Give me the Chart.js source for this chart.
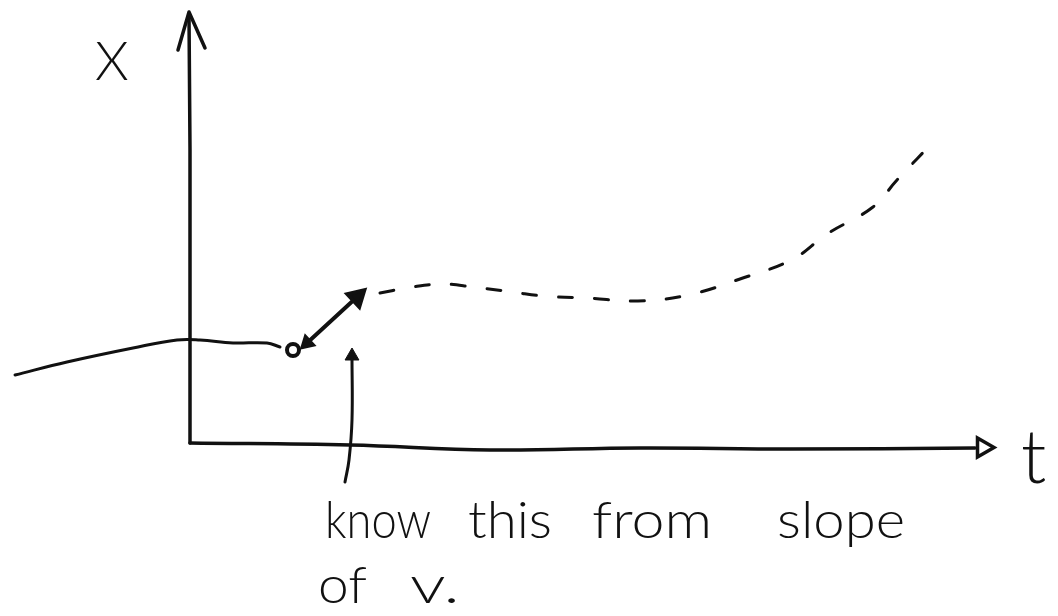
<!DOCTYPE html>
<html>
<head>
<meta charset="utf-8">
<script src="https://cdn.jsdelivr.net/npm/chart.js@4"></script>
<style>
  html, body { margin: 0; padding: 0; background: #fff; }
  #wrap { width: 1058px; height: 616px; }
</style>
</head>
<body>
<div id="wrap"><canvas id="myChart"></canvas></div>
<script>
// known path x(t) up to now
const pastT = [-1.75, -1.23, -0.57, -0.13, 0.10, 0.43, 0.77, 0.90];
const pastX = [0.68, 0.81, 0.95, 1.03, 1.03, 1.00, 1.00, 0.96];

// the present moment
const nowT = [1.03];
const nowX = [0.93];

// guessed future path (dashed)
const futureT = [1.90, 2.22, 2.53, 2.83, 3.23, 3.53, 3.97, 4.48, 4.98, 5.50, 6.03, 6.37, 6.83, 7.07, 7.47];
const futureX = [1.50, 1.56, 1.59, 1.56, 1.51, 1.47, 1.45, 1.42, 1.48, 1.64, 1.84, 2.09, 2.36, 2.63, 3.05];

// double arrow = the slope step
const slopeT = [1.17, 1.67];
const slopeX = [1.00, 1.46];

// pointer from the note up to the step
const pointerT = [1.55, 1.59, 1.62, 1.62];
const pointerX = [-0.39, -0.17, 0.23, 0.86];

// hand drawn axes
const tAxisT = [0, 1.6, 3.0, 4.5, 6.0, 7.85];
const tAxisX = [0, -0.02, -0.07, -0.05, -0.06, -0.05];
const xAxisT = [0, 0, -0.01];
const xAxisX = [0, 2.93, 4.28];
const chevronT = [-0.12, -0.01, 0.15];
const chevronX = [3.93, 4.31, 3.95];

const axisNames = ['X', 't'];
const noteLine1 = ['know', 'this', 'from', 'slope'];
const noteLine2 = ['of', 'v.'];

const toPts = (ts, xs) => ts.map((t, i) => ({ x: t, y: xs[i] }));

const ink = '#111';

function line(ts, xs, extra) {
  return Object.assign({
    data: toPts(ts, xs),
    showLine: true,
    borderColor: ink,
    borderWidth: 3,
    pointRadius: 0,
    tension: 0.4,
    borderCapStyle: 'round',
    borderJoinStyle: 'round',
    fill: false
  }, extra || {});
}

// where each handwritten word starts and how wide it runs (t units)
const line1At = [1.35, 2.78, 4.02, 5.87];
const line1W = [1.06, 0.84, 1.20, 1.28];
const line2At = [1.28, 2.20];
const line2W = [0.49, 0.50];

const handText = {
  id: 'handText',
  afterDatasetsDraw(chart) {
    const { ctx, scales: { x, y } } = chart;
    const font = size => '300 ' + size + 'px Lato, "DejaVu Sans", sans-serif';

    // squeeze or stretch a word so it spans the given t range
    function word(w, t0, tw, base) {
      const px = x.getPixelForValue(t0);
      const py = y.getPixelForValue(base);
      const want = x.getPixelForValue(t0 + tw) - px;
      const k = want / ctx.measureText(w).width;
      ctx.save();
      ctx.translate(px, py);
      ctx.scale(k, 1);
      ctx.fillText(w, 0, 0);
      ctx.restore();
    }

    ctx.save();
    ctx.fillStyle = ink;
    ctx.textBaseline = 'alphabetic';
    ctx.font = font(54);
    ctx.fillText(axisNames[0], x.getPixelForValue(-0.95), y.getPixelForValue(3.63));
    ctx.font = font(74);
    ctx.fillText(axisNames[1], x.getPixelForValue(8.31), y.getPixelForValue(-0.40));
    ctx.font = font(52);
    noteLine1.forEach((w, i) => word(w, line1At[i], line1W[i], -0.95));
    noteLine2.forEach((w, i) => word(w, line2At[i], line2W[i], -1.60));
    ctx.restore();
  }
};

new Chart(document.getElementById('myChart'), {
  type: 'scatter',
  data: {
    datasets: [
      line(tAxisT, tAxisX, { borderWidth: 3.5 }),
      line(xAxisT, xAxisX, { borderWidth: 3.5, tension: 0 }),
      line(chevronT, chevronX, { borderWidth: 3.5, tension: 0 }),
      // open arrow head on the t axis
      {
        data: toPts([7.93], [-0.045]),
        pointStyle: 'triangle',
        rotation: 90,
        pointRadius: 11,
        pointBorderWidth: 3.5,
        pointBorderColor: ink,
        pointBackgroundColor: '#fff'
      },
      line(pastT, pastX),
      {
        data: toPts(nowT, nowX),
        pointStyle: 'circle',
        pointRadius: 6,
        pointBorderWidth: 4,
        pointBorderColor: ink,
        pointBackgroundColor: '#fff'
      },
      line(futureT, futureX, { borderDash: [14, 22], borderWidth: 3 }),
      line(slopeT, slopeX, {
        borderWidth: 4,
        tension: 0,
        pointStyle: 'triangle',
        pointRadius: [6, 10],
        rotation: [227, 47],
        pointBackgroundColor: ink,
        pointBorderColor: ink
      }),
      line(pointerT, pointerX, { borderWidth: 3 }),
      {
        data: toPts([1.62], [0.87]),
        pointStyle: 'triangle',
        pointRadius: 8,
        pointBackgroundColor: ink,
        pointBorderColor: ink
      }
    ]
  },
  options: {
    responsive: true,
    maintainAspectRatio: false,
    animation: false,
    layout: { padding: 0, autoPadding: false },
    plugins: { legend: { display: false }, tooltip: { enabled: false } },
    scales: {
      x: { type: 'linear', min: -1.90, max: 8.68, display: false },
      y: { type: 'linear', min: -1.73, max: 4.43, display: false }
    }
  },
  plugins: [handText]
});
</script>
</body>
</html>
